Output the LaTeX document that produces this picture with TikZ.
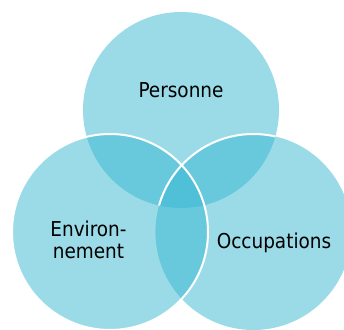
\documentclass[tikz,border=0pt]{standalone}
\usepackage{fontspec}
\setmainfont{DejaVu Sans Condensed}
\begin{document}
\begin{tikzpicture}[x=1pt,y=1pt,
  venn/.style={fill={rgb,255:red,55;green,183;blue,209}, fill opacity=0.5},
  edge/.style={draw=white, line width=2pt},
  lbl/.style={font=\fontsize{20.5}{22.3}\selectfont, text=black, inner sep=0pt, align=center}]
\useasboundingbox (0,0) rectangle (344,329);
\clip (0,0) rectangle (344,329);
\coordinate (ct) at (181,219);
\coordinate (cl) at (110,97);
\coordinate (cr) at (253.4,97);
\fill[venn] (ct) circle (98);
\fill[venn] (cr) circle (98);
\fill[venn] (cl) circle (98);
\begin{scope}
  \clip (ct) circle (98);
  \draw[edge] (cr) circle (98);
\end{scope}
\draw[edge] (cl) circle (98);
\node[lbl, anchor=base] (p) at (181,231.3) {Personne};
\node[lbl, anchor=base] (e) at (88.5,70.7) {Environ-\\nement};
\node[lbl, anchor=base] (o) at (274,80.7) {Occupations};
\end{tikzpicture}
\end{document}
